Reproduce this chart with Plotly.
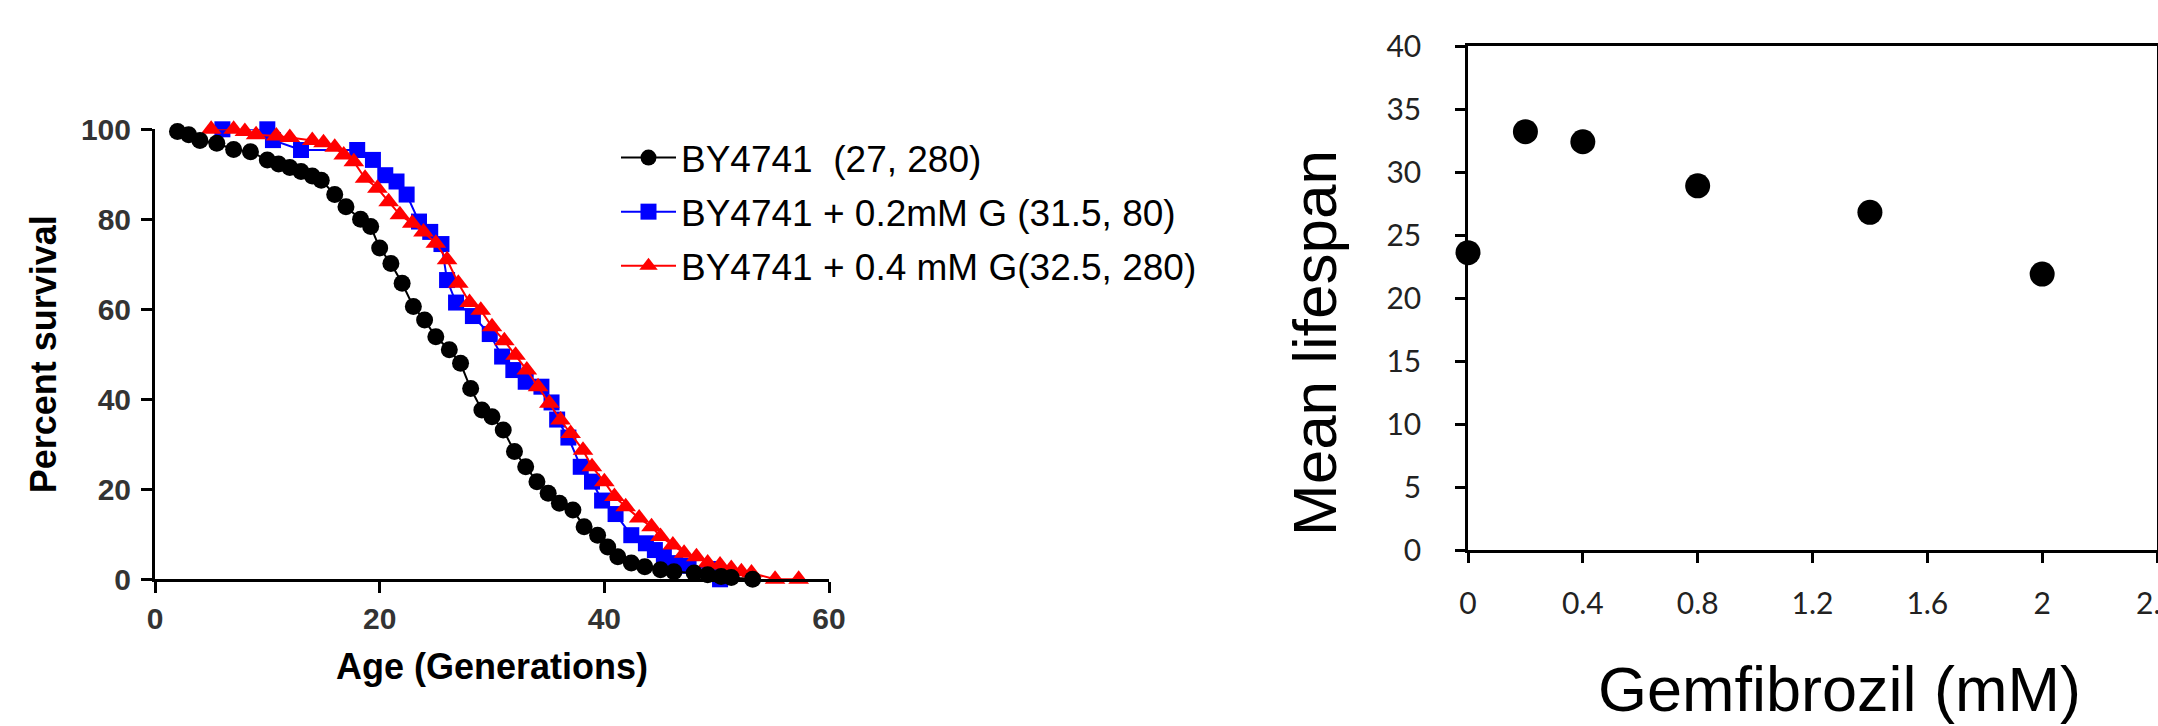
import plotly.graph_objects as go

W, H = 2158, 726

# ---- Replicative lifespan survival curves ----
by_gen = [2, 3, 4, 5.5, 7, 8.5, 10, 11, 12, 13, 14, 14.8, 16, 17, 18.3, 19.2, 20, 21, 22, 23,
          24, 25, 26.2, 27.2, 28.1, 29.1, 30, 31, 32, 33, 34, 35, 36, 37.2, 38.2, 39.4, 40.3,
          41.2, 42.4, 43.6, 45, 46.2, 48, 49.2, 50.4, 51.3, 53.2]
by_pct = [99.5, 98.8, 97.5, 96.9, 95.5, 95, 93.2, 92.3, 91.5, 90.6, 89.6, 88.7, 85.5, 82.8, 80,
          78.4, 73.6, 70.2, 65.8, 60.6, 57.6, 53.9, 51, 48, 42.4, 37.6, 36.1, 33.2, 28.4, 25,
          21.7, 19.1, 16.9, 15.4, 11.7, 9.8, 7.2, 5, 3.6, 2.8, 2.1, 1.7, 1.4, 1, 0.6, 0.4, 0]

g02_gen = [6, 10, 10.5, 13, 18, 19.4, 20.5, 21.5, 22.4, 23.5, 24.5, 25.5, 26, 26.8, 28.3, 29.8,
           30.9, 31.9, 33, 34.4, 35.3, 35.8, 36.8, 37.9, 38.9, 39.8, 41, 42.4, 43.7, 44.5, 45.3,
           46.3, 47.5, 49.5, 50.3]
g02_pct = [100, 100, 97.6, 95.4, 95.4, 93.2, 89.8, 88.4, 85.5, 79.5, 77.2, 74.5, 66.5, 61.5, 58.5,
           54.5, 49.5, 46.5, 43.9, 42.8, 39.3, 35.5, 31.5, 25, 21.7, 17.5, 14.5, 9.8, 8, 6.5, 5,
           3.6, 3, 2.3, 0]

g04_gen = [5, 7, 8, 9, 10.8, 12, 14, 15, 16, 16.8, 17.7, 18.7, 19.8, 20.8, 21.8, 22.9, 23.9, 25,
           26, 27, 28, 29, 30, 31.1, 32.1, 33.1, 34.1, 35.1, 36.1, 37, 38.1, 38.9, 40, 40.9, 41.9,
           43.1, 44.2, 45, 46.1, 47.1, 48.2, 49.2, 50.3, 51.3, 52.2, 53.1, 55.2, 57.3]
g04_pct = [100, 100, 99.5, 98.8, 98.5, 98.2, 97.5, 97, 96, 94.3, 92.8, 89.1, 86.9, 83.9, 81, 79.1,
           77.2, 74.7, 71, 65.8, 61.5, 59.8, 56.1, 53, 49.8, 46.5, 42.8, 39.1, 35.4, 32.4, 28.7,
           25, 21.7, 18.4, 16.1, 13.6, 11.7, 9.5, 7.6, 5.8, 5, 3.6, 3.2, 2.4, 1.7, 1.4, 0, 0]

series_names = ["BY4741\u00a0 (27, 280)",
                "BY4741 + 0.2mM G (31.5, 80)",
                "BY4741 + 0.4 mM G(32.5, 280)"]

left_xticks = [0, 20, 40, 60]
left_yticks = [0, 20, 40, 60, 80, 100]

# ---- Mean lifespan vs gemfibrozil ----
gem_conc = [0, 0.2, 0.4, 0.8, 1.4, 2.0]
mean_life = [23.6, 33.2, 32.4, 28.9, 26.8, 21.9]

right_xticks = [0, 0.4, 0.8, 1.2, 1.6, 2.0, 2.4]
right_xlabels = ["0", "0.4", "0.8", "1.2", "1.6", "2", "2.4"]
right_yticks = [0, 5, 10, 15, 20, 25, 30, 35, 40]


def px(x):
    return x / W


def py(y):
    return 1 - y / H


fig = go.Figure()

fig.add_trace(go.Scatter(
    x=g02_gen, y=g02_pct, mode="lines+markers", name=series_names[1],
    line=dict(color="#0000FF", width=2),
    marker=dict(symbol="square", size=16, color="#0000FF", line=dict(width=0)),
    legendrank=2, legendgroup="b", cliponaxis=False, xaxis="x", yaxis="y"))
fig.add_trace(go.Scatter(
    x=g04_gen, y=g04_pct, mode="lines+markers", name=series_names[2],
    line=dict(color="#FF0000", width=2),
    marker=dict(symbol="triangle-up", size=18, color="#FF0000", line=dict(width=0)),
    legendrank=3, legendgroup="c", cliponaxis=False, xaxis="x", yaxis="y"))
fig.add_trace(go.Scatter(
    x=by_gen, y=by_pct, mode="lines+markers", name=series_names[0],
    line=dict(color="#000000", width=2),
    marker=dict(symbol="circle", size=17, color="#000000", line=dict(width=0)),
    legendrank=1, legendgroup="a", cliponaxis=False, xaxis="x", yaxis="y"))

fig.add_trace(go.Scatter(
    x=gem_conc, y=mean_life, mode="markers", showlegend=False,
    marker=dict(symbol="circle", size=25, color="#000000", line=dict(width=0)),
    cliponaxis=False, xaxis="x2", yaxis="y2"))

bold_tick = dict(family="Liberation Sans, Arial, sans-serif", size=30, color="#333333", weight="bold")
right_tick = dict(family="Lato, Open Sans, sans-serif", size=30, color="#222222")

fig.update_layout(
    width=W, height=H, template="none",
    paper_bgcolor="white", plot_bgcolor="white",
    margin=dict(l=0, r=0, t=0, b=0),
    showlegend=True,
    legend=dict(
        x=px(616), xanchor="left", y=py(127), yanchor="top",
        font=dict(family="Liberation Sans, Arial, sans-serif", size=37, color="#000000"),
        bgcolor="rgba(0,0,0,0)", borderwidth=0, itemwidth=55, tracegroupgap=3,
    ),
    xaxis=dict(
        domain=[px(155), px(829)], range=[0, 60], anchor="y",
        tickvals=left_xticks, showline=True, linecolor="black", linewidth=3,
        ticks="outside", ticklen=11, tickwidth=3, tickcolor="black",
        tickfont=bold_tick, ticklabelstandoff=0,
        showgrid=False, zeroline=False, automargin=False,
        title=dict(text="Age (Generations)", standoff=20,
                   font=dict(family="Liberation Sans, Arial, sans-serif", size=36,
                             color="#000000", weight="bold")),
    ),
    yaxis=dict(
        domain=[py(579.3), py(129.3)], range=[0, 100], anchor="x",
        tickvals=left_yticks, showline=True, linecolor="black", linewidth=3,
        ticks="outside", ticklen=11, tickwidth=3, tickcolor="black",
        tickfont=bold_tick, ticklabelstandoff=4,
        showgrid=False, zeroline=False, automargin=False,
        title=dict(text="Percent survival", standoff=14,
                   font=dict(family="Liberation Sans, Arial, sans-serif", size=36,
                             color="#000000", weight="bold")),
    ),
    xaxis2=dict(
        domain=[px(1468), px(2157)], range=[0, 2.4], anchor="y2",
        tickvals=right_xticks, ticktext=right_xlabels,
        showline=True, mirror=True, linecolor="black", linewidth=2.5,
        ticks="outside", ticklen=10, tickwidth=2.5, tickcolor="black",
        tickfont=right_tick, ticklabelstandoff=15, ticklabeloverflow="allow",
        showgrid=False, zeroline=False, automargin=False,
    ),
    yaxis2=dict(
        domain=[py(550), py(46)], range=[0, 40], anchor="x2",
        tickvals=right_yticks, showline=True, mirror=True, linecolor="black", linewidth=2.5,
        ticks="outside", ticklen=10, tickwidth=2.5, tickcolor="black",
        tickfont=right_tick, ticklabelstandoff=28,
        showgrid=False, zeroline=False, automargin=False,
    ),
    annotations=[
        dict(text="Mean lifespan", x=px(1315), y=py(343), xref="paper", yref="paper",
             textangle=-90, showarrow=False, xanchor="center", yanchor="middle",
             font=dict(family="Liberation Sans, Arial, sans-serif", size=62, color="#000000")),
        dict(text="Gemfibrozil (mM)", x=px(1596), y=py(689), xref="paper", yref="paper",
             showarrow=False, xanchor="left", yanchor="middle",
             font=dict(family="Liberation Sans, Arial, sans-serif", size=63, color="#000000")),
    ],
)

fig.write_html("out.html")
